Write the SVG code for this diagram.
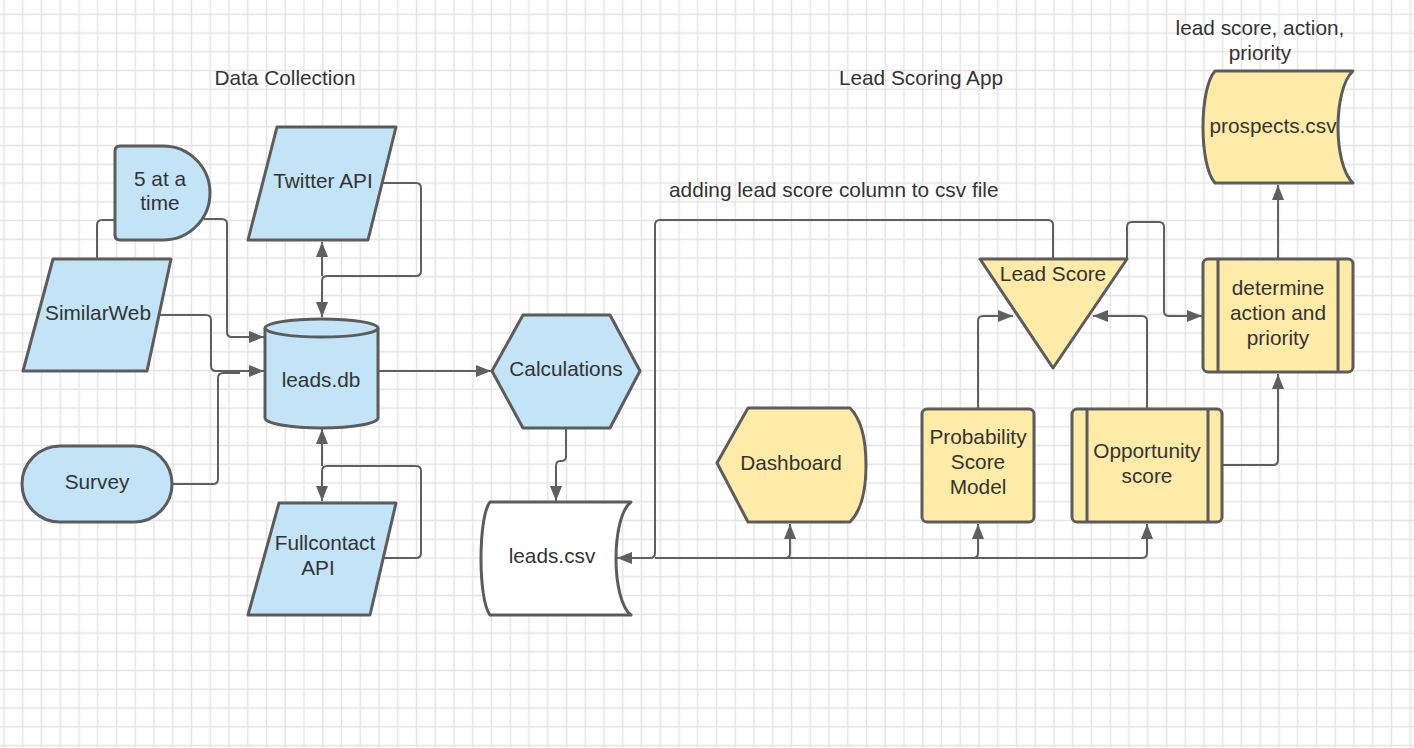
<svg xmlns="http://www.w3.org/2000/svg" width="1414" height="748" viewBox="0 0 1414 748">
<defs>
<pattern id="grid" x="-5.375" y="-13.825" width="18.75" height="18.75" patternUnits="userSpaceOnUse">
<path d="M9.375 0V18.75M0 9.375H18.75" stroke="#e4e4e4" stroke-width="1.5" fill="none"/>
</pattern>
<marker id="arr" viewBox="0 0 15 12" refX="15" refY="6" markerWidth="15" markerHeight="12" markerUnits="userSpaceOnUse" orient="auto-start-reverse">
<path d="M0,0 L15,6 L0,12 Z" fill="#5f5f5f"/>
</marker>
</defs>
<style>
.blue{fill:#c2e4f6;stroke:#5c5c5c;stroke-width:3;stroke-linejoin:round}
.yel{fill:#ffeba8;stroke:#5c5c5c;stroke-width:3;stroke-linejoin:round}
.wht{fill:#ffffff;stroke:#5c5c5c;stroke-width:3;stroke-linejoin:round}
.ln{fill:none;stroke:#5c5c5c;stroke-width:3}
.c{fill:none;stroke:#5f5f5f;stroke-width:2}
.a{marker-end:url(#arr)}
text{font-family:"Liberation Sans",Arial,sans-serif;font-size:20.8px;fill:#333333;text-anchor:middle}
</style>
<rect width="1414" height="748" fill="#ffffff"/>
<rect width="1414" height="748" fill="url(#grid)"/>

<g id="titles">
<text x="285" y="85">Data Collection</text>
<text x="921" y="85">Lead Scoring App</text>
<text x="669" y="197" style="text-anchor:start">adding lead score column to csv file</text>
<text x="1260" y="35">lead score, action,</text>
<text x="1260" y="60">priority</text>
</g>

<g id="connectors">
<path class="c a" d="M204 219H222Q227 219 227 224V332Q227 337 232 337H264"/>
<path class="c" d="M97 259V225Q97 220 102 220H115"/>
<path class="c a" d="M157 315H206Q211 315 211 320V366Q211 371 216 371H264"/>
<path class="c" d="M172 484H213Q218 484 218 479V378Q218 373 223 373H240"/>
<path class="c a" d="M381 183H416Q421 183 421 188V271Q421 276 416 276H327Q322 276 322 281V317"/>
<path class="c a" d="M322 276V242"/>
<path class="c a" d="M383 558H416Q421 558 421 553V471Q421 466 416 466H327Q322 466 322 471V501"/>
<path class="c a" d="M322 466V429"/>
<path class="c a" d="M378 371H491"/>
<path class="c a" d="M566 428V457Q566 461 561 461H560Q556 461 556 466V501"/>
<path class="c a" d="M1053 259V225Q1053 220 1048 220H660Q655 220 655 225V553Q655 558 650 558H617"/>
<path class="c a" d="M655 558H785Q790 558 790 553V524"/>
<path class="c a" d="M785 558H973Q978 558 978 553V524"/>
<path class="c a" d="M973 558H1142Q1147 558 1147 553V524"/>
<path class="c a" d="M978 409V321Q978 316 983 316H1013"/>
<path class="c a" d="M1147 409V321Q1147 316 1142 316H1093"/>
<path class="c a" d="M1127 259V227Q1127 222 1132 222H1159Q1164 222 1164 227V311Q1164 316 1169 316H1202"/>
<path class="c a" d="M1222 465H1273Q1278 465 1278 460V374"/>
<path class="c a" d="M1278 259V185"/>
</g>

<g id="n-5atatime">
<path class="blue" d="M115 151Q115 146 120 146H163A47 47 0 0 1 163 240H120Q115 240 115 235Z"/>
<text x="160" y="186">5 at a</text>
<text x="160" y="210">time</text>
</g>
<g id="n-twitter">
<polygon class="blue" points="277,127 396,127 368,240 248,240"/>
<text x="323" y="188">Twitter API</text>
</g>
<g id="n-similarweb">
<polygon class="blue" points="53,259 171,259 147,371 23,371"/>
<text x="98" y="320">SimilarWeb</text>
</g>
<g id="n-leadsdb">
<path class="blue" d="M265 328A56.5 9 0 0 1 378 328V418A56.5 10 0 0 1 265 418Z"/>
<path class="ln" d="M265 328A56.5 9 0 0 0 378 328"/>
<text x="321" y="387">leads.db</text>
</g>
<g id="n-survey">
<rect class="blue" x="22" y="446" width="150" height="76" rx="38"/>
<text x="97" y="489">Survey</text>
</g>
<g id="n-fullcontact">
<polygon class="blue" points="279,503 396,503 370,615 248,615"/>
<text x="325" y="550">Fullcontact</text>
<text x="318" y="575">API</text>
</g>
<g id="n-calculations">
<polygon class="blue" points="492,371 523,315 610,315 640,371 610,428 523,428"/>
<text x="566" y="376">Calculations</text>
</g>
<g id="n-leadscsv">
<path class="wht" d="M490 502H631C611 517 611 600 631 615H490C478 600 478 517 490 502Z"/>
<text x="552" y="563">leads.csv</text>
</g>
<g id="n-dashboard">
<path class="yel" d="M717 463L748 408H850C862 420 866 440 866 465C866 490 862 510 850 522H748Z"/>
<text x="791" y="470">Dashboard</text>
</g>
<g id="n-leadscore">
<polygon class="yel" points="980,259 1127,259 1053,368"/>
<text x="1053" y="281">Lead Score</text>
</g>
<g id="n-determine">
<rect class="yel" x="1203" y="259" width="150" height="113" rx="5"/>
<path class="ln" d="M1218 259V372M1338 259V372"/>
<text x="1278" y="295">determine</text>
<text x="1278" y="320">action and</text>
<text x="1278" y="345">priority</text>
</g>
<g id="n-probability">
<rect class="yel" x="922" y="409" width="112" height="113" rx="5"/>
<text x="978" y="444">Probability</text>
<text x="978" y="469">Score</text>
<text x="978" y="494">Model</text>
</g>
<g id="n-opportunity">
<rect class="yel" x="1072" y="409" width="150" height="113" rx="5"/>
<path class="ln" d="M1087 409V522M1208 409V522"/>
<text x="1147" y="458">Opportunity</text>
<text x="1147" y="483">score</text>
</g>
<g id="n-prospects">
<path class="yel" d="M1215 71H1353C1333 89 1333 165 1353 183H1215C1199 165 1199 89 1215 71Z"/>
<text x="1273" y="133">prospects.csv</text>
</g>
</svg>
